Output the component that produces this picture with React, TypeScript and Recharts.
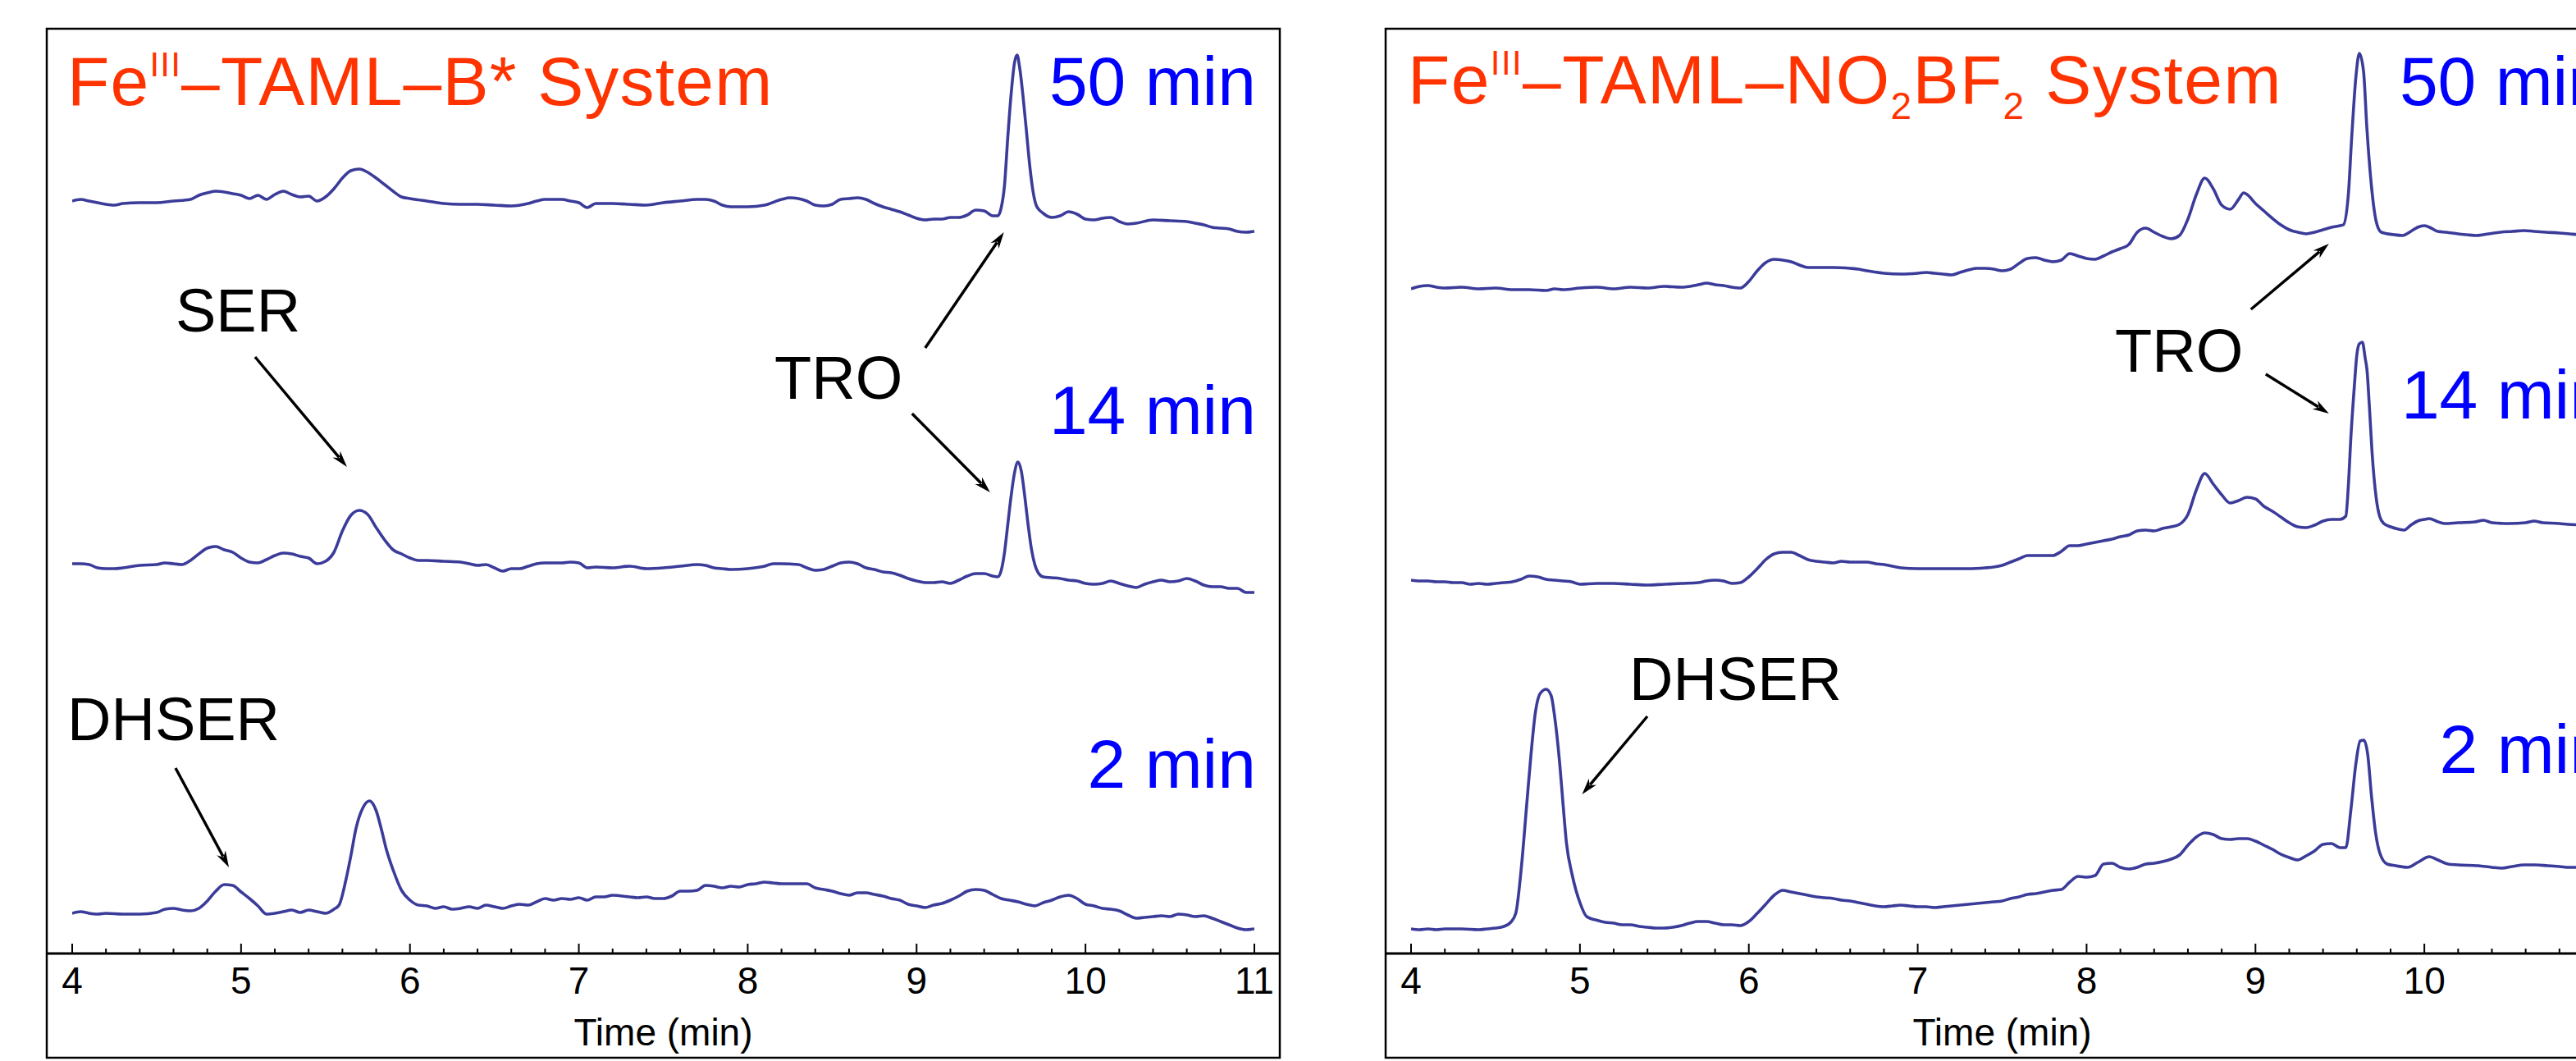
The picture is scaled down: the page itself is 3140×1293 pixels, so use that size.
import React from 'react';
import { LineChart, Line, XAxis, YAxis, ReferenceLine } from 'recharts';

const TRACE_COLOR = '#3b3b9a';
const TITLE_COLOR = '#ff3300';
const TIME_COLOR = '#0000ff';
const FONT = '"Liberation Sans", Arial, Helvetica, sans-serif';

// x ticks every 0.2 min, whole minutes get a label
const xTicks = [
  4, 4.2, 4.4, 4.6, 4.8, 5, 5.2, 5.4, 5.6, 5.8, 6, 6.2, 6.4, 6.6, 6.8, 7, 7.2, 7.4, 7.6, 7.8,
  8, 8.2, 8.4, 8.6, 8.8, 9, 9.2, 9.4, 9.6, 9.8, 10, 10.2, 10.4, 10.6, 10.8, 11,
];

// [retention time (min), detector signal incl. stacking offset]
// Fe(III)-TAML-B* system
const bStar50: [number, number][] = [
  [4.0, 91.7], [4.05, 91.9], [4.1, 91.7], [4.15, 91.5], [4.2, 91.3], [4.25, 91.2], [4.3, 91.4],
  [4.4, 91.5], [4.5, 91.5], [4.6, 91.7], [4.7, 91.9], [4.75, 92.4], [4.8, 92.7], [4.85, 92.9],
  [4.9, 92.8], [4.95, 92.6], [5.0, 92.4], [5.05, 92.0], [5.1, 92.4], [5.15, 91.9], [5.2, 92.5],
  [5.25, 92.9], [5.3, 92.5], [5.35, 92.2], [5.4, 92.3], [5.45, 91.7], [5.5, 92.2], [5.55, 93.2],
  [5.6, 94.5], [5.65, 95.4], [5.7, 95.6], [5.75, 95.2], [5.8, 94.5], [5.85, 93.7], [5.9, 92.9],
  [5.95, 92.2], [6.0, 92.0], [6.1, 91.7], [6.2, 91.4], [6.3, 91.3], [6.4, 91.3], [6.5, 91.2],
  [6.6, 91.1], [6.7, 91.4], [6.75, 91.7], [6.8, 91.9], [6.85, 91.9], [6.9, 91.9], [6.95, 91.7],
  [7.0, 91.5], [7.05, 90.9], [7.1, 91.4], [7.2, 91.4], [7.3, 91.3], [7.4, 91.2], [7.5, 91.5],
  [7.6, 91.7], [7.7, 91.9], [7.75, 91.9], [7.8, 91.7], [7.85, 91.2], [7.9, 91.0], [8.0, 91.0],
  [8.1, 91.2], [8.2, 91.9], [8.25, 92.1], [8.3, 92.0], [8.35, 91.7], [8.4, 91.2], [8.45, 91.1],
  [8.5, 91.3], [8.55, 91.9], [8.6, 92.0], [8.65, 92.1], [8.7, 91.9], [8.75, 91.4], [8.8, 91.0],
  [8.85, 90.7], [8.9, 90.4], [8.95, 90.0], [9.0, 89.6], [9.05, 89.4], [9.1, 89.5], [9.15, 89.5],
  [9.2, 89.7], [9.25, 89.7], [9.3, 90.0], [9.35, 90.6], [9.4, 90.5], [9.45, 89.9], [9.48, 89.9],
  [9.5, 90.8], [9.52, 93.5], [9.54, 99.5], [9.56, 104.8], [9.58, 108.6], [9.595, 109.5],
  [9.61, 108.0], [9.63, 104.5], [9.65, 100.3], [9.67, 96.0], [9.69, 92.8], [9.71, 91.1],
  [9.75, 90.2], [9.8, 89.7], [9.85, 89.9], [9.9, 90.4], [9.95, 90.1], [10.0, 89.5], [10.05, 89.4],
  [10.1, 89.6], [10.15, 89.7], [10.2, 89.2], [10.25, 88.9], [10.3, 89.0], [10.4, 89.4],
  [10.5, 89.3], [10.6, 89.2], [10.65, 89.0], [10.7, 88.8], [10.75, 88.5], [10.8, 88.4],
  [10.85, 88.3], [10.9, 88.0], [10.95, 87.9], [11.0, 88.0],
];

const bStar14: [number, number][] = [
  [4.0, 47.5], [4.05, 47.5], [4.1, 47.4], [4.15, 47.0], [4.2, 46.9], [4.25, 46.9], [4.3, 47.0],
  [4.4, 47.3], [4.5, 47.4], [4.55, 47.6], [4.6, 47.5], [4.65, 47.4], [4.7, 47.9], [4.75, 48.7],
  [4.8, 49.4], [4.85, 49.6], [4.9, 49.2], [4.95, 48.9], [5.0, 48.2], [5.05, 47.7], [5.1, 47.6],
  [5.15, 48.0], [5.2, 48.5], [5.25, 48.8], [5.3, 48.7], [5.35, 48.4], [5.4, 48.2], [5.45, 47.5],
  [5.5, 47.8], [5.55, 48.9], [5.6, 51.5], [5.65, 53.4], [5.7, 54.0], [5.75, 53.5], [5.8, 51.9],
  [5.85, 50.4], [5.9, 49.2], [5.95, 48.7], [6.0, 48.2], [6.05, 47.9], [6.1, 47.9], [6.2, 47.8],
  [6.3, 47.7], [6.35, 47.5], [6.4, 47.3], [6.45, 47.4], [6.5, 47.0], [6.55, 46.6], [6.6, 46.9],
  [6.65, 46.9], [6.7, 47.2], [6.75, 47.5], [6.8, 47.6], [6.9, 47.6], [6.95, 47.7], [7.0, 47.6],
  [7.05, 47.0], [7.1, 47.1], [7.2, 47.0], [7.3, 47.2], [7.4, 46.9], [7.5, 47.0], [7.6, 47.2],
  [7.7, 47.4], [7.75, 47.3], [7.8, 47.0], [7.85, 46.9], [7.9, 46.8], [8.0, 46.9], [8.1, 47.2],
  [8.15, 47.5], [8.2, 47.5], [8.3, 47.4], [8.35, 47.0], [8.4, 46.7], [8.45, 46.8], [8.5, 47.2],
  [8.55, 47.6], [8.6, 47.7], [8.65, 47.5], [8.7, 47.0], [8.75, 46.8], [8.8, 46.5], [8.85, 46.4],
  [8.9, 46.1], [8.95, 45.7], [9.0, 45.4], [9.05, 45.2], [9.1, 45.2], [9.15, 45.3], [9.2, 45.1],
  [9.25, 45.5], [9.3, 46.0], [9.35, 46.3], [9.4, 46.3], [9.45, 46.0], [9.48, 45.9], [9.5, 46.6],
  [9.52, 48.8], [9.54, 52.3], [9.56, 55.8], [9.58, 58.6], [9.6, 59.9], [9.62, 58.8], [9.64, 55.8],
  [9.66, 52.3], [9.68, 49.3], [9.7, 47.4], [9.72, 46.4], [9.75, 45.9], [9.8, 45.8], [9.85, 45.7],
  [9.9, 45.5], [9.95, 45.4], [10.0, 45.1], [10.05, 45.0], [10.1, 45.1], [10.15, 45.4], [10.2, 45.1],
  [10.25, 44.8], [10.3, 44.6], [10.35, 45.0], [10.4, 45.3], [10.45, 45.5], [10.5, 45.3],
  [10.55, 45.4], [10.6, 45.7], [10.65, 45.4], [10.7, 44.9], [10.75, 44.7], [10.8, 44.7],
  [10.85, 44.5], [10.9, 44.5], [10.95, 44.0], [11.0, 44.0],
];

const bStar2: [number, number][] = [
  [4.0, 4.9], [4.05, 5.1], [4.1, 4.9], [4.15, 4.8], [4.2, 4.9], [4.3, 4.8], [4.4, 4.8], [4.5, 5.0],
  [4.55, 5.4], [4.6, 5.5], [4.65, 5.3], [4.7, 5.2], [4.75, 5.5], [4.8, 6.4], [4.85, 7.6], [4.9, 8.4],
  [4.95, 8.3], [5.0, 7.5], [5.05, 6.7], [5.1, 5.8], [5.15, 4.8], [5.2, 4.9], [5.25, 5.1], [5.3, 5.3],
  [5.35, 5.0], [5.4, 5.3], [5.45, 5.1], [5.5, 4.9], [5.55, 5.4], [5.58, 5.9], [5.62, 8.9],
  [5.65, 11.9], [5.68, 15.2], [5.72, 17.7], [5.76, 18.6], [5.8, 17.4], [5.83, 15.2], [5.86, 12.7],
  [5.9, 10.2], [5.95, 7.7], [6.0, 6.5], [6.05, 5.9], [6.1, 5.8], [6.15, 5.5], [6.2, 5.7], [6.25, 5.4],
  [6.3, 5.5], [6.35, 5.7], [6.4, 5.5], [6.45, 5.9], [6.5, 5.7], [6.55, 5.5], [6.6, 5.8], [6.65, 6.0],
  [6.7, 5.9], [6.75, 6.3], [6.8, 6.7], [6.85, 6.5], [6.9, 6.7], [6.95, 6.6], [7.0, 6.8], [7.05, 6.5],
  [7.1, 6.9], [7.15, 6.9], [7.2, 7.1], [7.3, 6.9], [7.35, 6.8], [7.4, 6.9], [7.45, 6.7], [7.5, 6.7],
  [7.55, 7.0], [7.6, 7.6], [7.65, 7.6], [7.7, 7.7], [7.75, 8.3], [7.8, 8.2], [7.85, 8.0], [7.9, 8.2],
  [7.95, 8.1], [8.0, 8.4], [8.05, 8.5], [8.1, 8.7], [8.15, 8.6], [8.2, 8.5], [8.25, 8.5], [8.3, 8.5],
  [8.35, 8.5], [8.4, 8.0], [8.45, 7.8], [8.5, 7.6], [8.55, 7.3], [8.6, 7.1], [8.65, 7.4], [8.7, 7.4],
  [8.75, 7.2], [8.8, 7.0], [8.85, 6.7], [8.9, 6.5], [8.95, 6.0], [9.0, 5.8], [9.05, 5.6], [9.1, 5.9],
  [9.15, 6.1], [9.2, 6.5], [9.25, 7.0], [9.3, 7.6], [9.35, 7.8], [9.4, 7.7], [9.45, 7.2], [9.5, 6.7],
  [9.55, 6.5], [9.6, 6.3], [9.65, 6.0], [9.7, 5.8], [9.75, 6.2], [9.8, 6.5], [9.85, 6.9], [9.9, 7.1],
  [9.95, 6.7], [10.0, 6.0], [10.05, 5.8], [10.1, 5.5], [10.15, 5.4], [10.2, 5.2], [10.25, 4.7],
  [10.3, 4.3], [10.35, 4.4], [10.4, 4.5], [10.45, 4.6], [10.5, 4.5], [10.55, 4.8], [10.6, 4.7],
  [10.65, 4.5], [10.7, 4.6], [10.75, 4.3], [10.8, 3.9], [10.85, 3.5], [10.9, 3.1], [10.95, 2.9],
  [11.0, 3.0],
];

// Fe(III)-TAML-NO2BF2 system
const nbf50: [number, number][] = [
  [4.0, 81.0], [4.05, 81.3], [4.1, 81.4], [4.15, 81.2], [4.2, 81.1], [4.3, 81.2], [4.4, 81.0],
  [4.5, 81.1], [4.6, 80.9], [4.7, 80.9], [4.8, 80.8], [4.85, 81.0], [4.9, 80.9], [5.0, 81.1],
  [5.1, 81.2], [5.2, 81.0], [5.3, 81.2], [5.4, 81.1], [5.5, 81.3], [5.6, 81.2], [5.7, 81.5],
  [5.75, 81.7], [5.8, 81.5], [5.85, 81.4], [5.9, 81.2], [5.95, 81.1], [6.0, 81.9], [6.05, 83.2],
  [6.1, 84.2], [6.15, 84.6], [6.2, 84.5], [6.25, 84.3], [6.3, 83.9], [6.35, 83.6], [6.4, 83.6],
  [6.5, 83.6], [6.6, 83.5], [6.65, 83.4], [6.7, 83.2], [6.8, 82.9], [6.9, 82.8], [7.0, 82.9],
  [7.05, 83.0], [7.1, 82.9], [7.15, 82.8], [7.2, 82.7], [7.25, 83.0], [7.3, 83.3], [7.35, 83.5],
  [7.4, 83.5], [7.45, 83.4], [7.5, 83.2], [7.55, 83.4], [7.6, 84.1], [7.65, 84.7], [7.7, 84.8],
  [7.75, 84.5], [7.8, 84.3], [7.85, 84.5], [7.9, 85.3], [7.95, 85.0], [8.0, 84.7], [8.05, 84.6],
  [8.1, 85.0], [8.15, 85.5], [8.2, 85.9], [8.25, 86.4], [8.3, 87.9], [8.35, 88.4], [8.4, 87.9],
  [8.45, 87.4], [8.5, 87.1], [8.55, 87.5], [8.6, 89.5], [8.65, 92.5], [8.7, 94.5], [8.75, 93.2],
  [8.8, 91.2], [8.85, 90.7], [8.9, 91.9], [8.93, 92.7], [8.95, 92.5], [9.0, 91.4], [9.05, 90.5],
  [9.1, 89.6], [9.15, 88.8], [9.2, 88.2], [9.25, 87.9], [9.3, 87.7], [9.35, 87.9], [9.4, 88.2],
  [9.45, 88.5], [9.5, 88.7], [9.52, 88.8], [9.55, 92.5], [9.57, 99.5], [9.595, 106.9],
  [9.615, 109.7], [9.64, 107.5], [9.66, 100.5], [9.685, 93.9], [9.715, 89.2], [9.745, 87.9],
  [9.82, 87.6], [9.87, 87.5], [9.92, 88.0], [9.96, 88.5], [10.0, 88.7], [10.04, 88.4], [10.08, 88.0],
  [10.13, 87.9], [10.2, 87.7], [10.25, 87.6], [10.31, 87.5], [10.38, 87.7], [10.45, 87.9],
  [10.52, 88.0], [10.59, 88.1], [10.65, 88.0], [10.72, 87.9], [10.8, 87.8], [10.86, 87.7],
  [10.93, 87.6], [11.0, 87.6],
];

const nbf14: [number, number][] = [
  [4.0, 45.5], [4.05, 45.4], [4.1, 45.4], [4.15, 45.3], [4.2, 45.3], [4.25, 45.2], [4.3, 45.2],
  [4.35, 45.0], [4.4, 45.1], [4.45, 45.0], [4.5, 45.1], [4.55, 45.2], [4.6, 45.3], [4.65, 45.6],
  [4.7, 46.0], [4.75, 45.9], [4.8, 45.6], [4.85, 45.5], [4.9, 45.4], [4.95, 45.3], [5.0, 45.0],
  [5.1, 45.1], [5.2, 45.1], [5.3, 45.0], [5.4, 44.9], [5.5, 45.0], [5.6, 45.1], [5.7, 45.2],
  [5.75, 45.4], [5.8, 45.5], [5.85, 45.4], [5.9, 45.1], [5.95, 45.2], [6.0, 45.9], [6.05, 46.9],
  [6.1, 48.0], [6.15, 48.7], [6.2, 48.9], [6.25, 48.9], [6.3, 48.5], [6.35, 48.0], [6.4, 47.8],
  [6.45, 47.7], [6.5, 47.6], [6.55, 47.8], [6.6, 47.7], [6.65, 47.7], [6.7, 47.7], [6.75, 47.5],
  [6.8, 47.4], [6.85, 47.2], [6.9, 47.0], [7.0, 46.9], [7.1, 46.9], [7.2, 46.9], [7.3, 46.9],
  [7.4, 47.0], [7.45, 47.1], [7.5, 47.3], [7.55, 47.7], [7.6, 48.1], [7.65, 48.5], [7.7, 48.5],
  [7.75, 48.5], [7.8, 48.5], [7.85, 49.0], [7.9, 49.7], [7.95, 49.7], [8.0, 49.9], [8.05, 50.1],
  [8.1, 50.3], [8.15, 50.5], [8.2, 50.8], [8.25, 51.0], [8.3, 51.5], [8.35, 51.6], [8.4, 51.5],
  [8.45, 51.8], [8.5, 52.0], [8.55, 52.3], [8.6, 53.5], [8.65, 56.5], [8.7, 58.5], [8.75, 57.2],
  [8.8, 55.9], [8.85, 54.9], [8.9, 55.2], [8.95, 55.6], [9.0, 55.4], [9.05, 54.5], [9.1, 53.9],
  [9.15, 53.2], [9.2, 52.5], [9.25, 52.0], [9.3, 51.9], [9.35, 52.2], [9.4, 52.7], [9.45, 52.9],
  [9.5, 52.9], [9.535, 53.3], [9.55, 57.0], [9.565, 62.9], [9.585, 69.0], [9.6, 72.9],
  [9.615, 74.3], [9.633, 74.5], [9.65, 72.5], [9.66, 71.2], [9.675, 66.5], [9.69, 61.2],
  [9.715, 55.5], [9.735, 53.3], [9.76, 52.4], [9.8, 52.0], [9.85, 51.7], [9.88, 51.6], [9.92, 52.2],
  [9.96, 52.7], [10.0, 52.9], [10.03, 53.0], [10.07, 52.7], [10.12, 52.4], [10.2, 52.5],
  [10.3, 52.6], [10.35, 52.8], [10.4, 52.5], [10.5, 52.4], [10.6, 52.5], [10.65, 52.7],
  [10.7, 52.5], [10.8, 52.4], [10.85, 52.3], [11.0, 52.2],
];

const nbf2: [number, number][] = [
  [4.0, 3.0], [4.05, 2.9], [4.1, 3.0], [4.15, 2.9], [4.2, 3.0], [4.3, 3.0], [4.4, 2.9], [4.45, 3.0],
  [4.5, 3.1], [4.55, 3.3], [4.59, 3.8], [4.62, 4.9], [4.655, 10.9], [4.685, 18.2], [4.71, 24.2],
  [4.735, 29.2], [4.765, 31.7], [4.8, 32.2], [4.83, 31.4], [4.85, 28.9], [4.88, 23.2], [4.9, 18.2],
  [4.92, 13.5], [4.955, 9.5], [5.0, 6.2], [5.04, 4.5], [5.11, 4.0], [5.15, 3.8], [5.2, 3.7],
  [5.25, 3.5], [5.3, 3.5], [5.35, 3.3], [5.4, 3.2], [5.45, 3.1], [5.5, 3.1], [5.55, 3.2], [5.6, 3.4],
  [5.65, 3.7], [5.7, 3.9], [5.75, 3.9], [5.8, 3.7], [5.85, 3.5], [5.9, 3.5], [5.95, 3.4], [6.0, 3.9],
  [6.05, 4.9], [6.1, 6.0], [6.15, 7.1], [6.2, 7.7], [6.25, 7.5], [6.3, 7.3], [6.35, 7.1], [6.4, 6.9],
  [6.45, 6.8], [6.5, 6.7], [6.55, 6.5], [6.6, 6.4], [6.65, 6.2], [6.7, 6.0], [6.75, 5.8], [6.8, 5.7],
  [6.85, 5.8], [6.9, 5.9], [6.95, 5.8], [7.0, 5.7], [7.05, 5.7], [7.1, 5.6], [7.15, 5.7], [7.2, 5.8],
  [7.25, 5.9], [7.3, 6.0], [7.35, 6.1], [7.4, 6.2], [7.45, 6.3], [7.5, 6.4], [7.55, 6.7], [7.6, 6.9],
  [7.65, 7.2], [7.7, 7.3], [7.75, 7.5], [7.8, 7.7], [7.85, 7.8], [7.9, 8.7], [7.95, 9.4], [8.0, 9.3],
  [8.05, 9.5], [8.1, 10.9], [8.15, 11.0], [8.2, 10.5], [8.25, 10.3], [8.3, 10.5], [8.35, 10.9],
  [8.4, 11.0], [8.45, 11.2], [8.5, 11.5], [8.55, 12.0], [8.6, 13.2], [8.65, 14.2], [8.7, 14.7],
  [8.75, 14.5], [8.8, 14.0], [8.85, 13.9], [8.9, 14.0], [8.95, 14.0], [9.0, 13.7], [9.05, 13.2],
  [9.1, 12.7], [9.15, 12.1], [9.2, 11.7], [9.25, 11.4], [9.3, 11.9], [9.35, 12.5], [9.4, 13.3],
  [9.45, 13.4], [9.5, 12.9], [9.535, 12.9], [9.565, 17.5], [9.595, 23.2], [9.62, 25.9],
  [9.642, 26.0], [9.665, 24.2], [9.687, 19.2], [9.71, 14.9], [9.737, 12.2], [9.78, 10.9],
  [9.83, 10.7], [9.9, 10.5], [9.96, 11.1], [10.03, 11.8], [10.08, 11.4], [10.14, 10.9],
  [10.2, 10.8], [10.32, 10.7], [10.4, 10.5], [10.46, 10.4], [10.52, 10.6], [10.59, 10.8],
  [10.66, 10.8], [10.73, 10.7], [10.8, 10.6], [10.86, 10.5], [10.93, 10.5], [11.0, 10.5],
];

// annotation arrows: [from (t, signal), to (t, signal)]
const bStarArrows: [number, number][][] = [
  [[5.083, 72.7], [5.627, 59.3]], // SER
  [[9.051, 73.8], [9.517, 87.9]], // TRO -> 50 min
  [[8.973, 65.8], [9.435, 56.2]], // TRO -> 14 min
  [[4.612, 22.6], [4.928, 10.5]], // DHSER
];
const nbfArrows: [number, number][][] = [
  [[8.973, 78.5], [9.435, 86.5]], // TRO -> 50 min
  [[9.061, 70.6], [9.435, 65.8]], // TRO -> 14 min
  [[5.399, 28.9], [5.013, 19.4]], // DHSER
];

const toRows = (trace: [number, number][]) => trace.map(([t, v]) => ({ t, v }));

const TimeTick = (props: any) => {
  const { x, y, payload } = props;
  const major = Math.abs(payload.value - Math.round(payload.value)) < 1e-6;
  return (
    <g>
      <line x1={x} x2={x} y1={y} y2={y - (major ? 12 : 6)} stroke="#000" strokeWidth={2} />
      {major && (
        <text x={x} y={y + 49} textAnchor="middle" fontSize={46} fill="#000" fontFamily={FONT}>
          {Math.round(payload.value)}
        </text>
      )}
    </g>
  );
};

const ArrowShape = (props: any) => {
  const { x1, y1, x2, y2 } = props;
  const dx = x2 - x1;
  const dy = y2 - y1;
  const len = Math.hypot(dx, dy) || 1;
  const ux = dx / len;
  const uy = dy / len;
  const head = 20;
  const half = 6;
  const bx = x2 - ux * head;
  const by = y2 - uy * head;
  const px = -uy * half;
  const py = ux * half;
  return (
    <g>
      <line x1={x1} y1={y1} x2={bx + ux * 5} y2={by + uy * 5} stroke="#000" strokeWidth={3.5} />
      <polygon
        points={`${x2},${y2} ${bx + px},${by + py} ${bx + ux * 6},${by + uy * 6} ${bx - px},${by - py}`}
        fill="#000"
      />
    </g>
  );
};

function Panel({ left, traces, arrows }: { left: number; traces: [number, number][][]; arrows: [number, number][][] }) {
  return (
    <div style={{ position: 'absolute', left, top: 34 }}>
      <LineChart width={1505} height={1256} margin={{ top: 0, right: 32, bottom: 0, left: 32 }}>
        <XAxis
          type="number"
          dataKey="t"
          domain={[4, 11]}
          ticks={xTicks}
          interval={0}
          allowDataOverflow
          axisLine={false}
          tickLine={false}
          tickSize={0}
          tickMargin={0}
          height={128}
          tick={(p: any) => <TimeTick {...p} />}
          label={{ value: 'Time (min)', position: 'insideBottom', offset: 16, fontSize: 46, fill: '#000' }}
        />
        <YAxis type="number" hide domain={[0, 112.8]} allowDataOverflow />
        {traces.map((tr, i) => (
          <Line
            key={i}
            data={toRows(tr)}
            dataKey="v"
            type="monotone"
            stroke={TRACE_COLOR}
            strokeWidth={3.6}
            dot={false}
            activeDot={false}
            isAnimationActive={false}
          />
        ))}
        {arrows.map((a, i) => (
          <ReferenceLine
            key={`a${i}`}
            segment={[{ x: a[0][0], y: a[0][1] }, { x: a[1][0], y: a[1][1] }]}
            shape={ArrowShape}
            ifOverflow="visible"
          />
        ))}
      </LineChart>
    </div>
  );
}

export default function App() {
  const big = 84;
  const lab = 74;
  return (
    <div
      style={{
        position: 'absolute',
        left: 0,
        top: 0,
        width: 3140,
        height: 1293,
        overflow: 'hidden',
        background: '#fff',
        fontFamily: FONT,
      }}
    >
      <Panel left={56} traces={[bStar50, bStar14, bStar2]} arrows={bStarArrows} />
      <Panel left={1688} traces={[nbf50, nbf14, nbf2]} arrows={nbfArrows} />
      <svg
        width={3140}
        height={1293}
        style={{ position: 'absolute', left: 0, top: 0, pointerEvents: 'none' }}
        fontFamily={FONT}
      >
        {/* frames + x axis lines */}
        <rect x={57} y={35} width={1503} height={1254} fill="none" stroke="#000" strokeWidth={2.5} />
        <line x1={56} x2={1561} y1={1162} y2={1162} stroke="#000" strokeWidth={3} />
        <rect x={1689} y={35} width={1503} height={1254} fill="none" stroke="#000" strokeWidth={2.5} />
        <line x1={1688} x2={3193} y1={1162} y2={1162} stroke="#000" strokeWidth={3} />

        {/* left panel */}
        <text x={82} y={128} fontSize={big} fill={TITLE_COLOR} letterSpacing={1.2}>
          Fe
          <tspan fontSize={42} dy={-35}>III</tspan>
          <tspan dy={35}>–TAML–B* System</tspan>
        </text>
        <text x={1531} y={128} fontSize={big} fill={TIME_COLOR} textAnchor="end">50 min</text>
        <text x={1531} y={529} fontSize={big} fill={TIME_COLOR} textAnchor="end">14 min</text>
        <text x={1531} y={960} fontSize={big} fill={TIME_COLOR} textAnchor="end">2 min</text>
        <text x={214} y={404} fontSize={lab} fill="#000">SER</text>
        <text x={944} y={486} fontSize={lab} fill="#000">TRO</text>
        <text x={82} y={902} fontSize={lab} fill="#000">DHSER</text>

        {/* right panel */}
        <text x={1716} y={126} fontSize={big} fill={TITLE_COLOR} letterSpacing={1.4}>
          Fe
          <tspan fontSize={42} dy={-35}>III</tspan>
          <tspan dy={35}>–TAML–NO</tspan>
          <tspan fontSize={46} dy={19}>2</tspan>
          <tspan dy={-19}>BF</tspan>
          <tspan fontSize={46} dy={19}>2</tspan>
          <tspan dy={-19}> System</tspan>
        </text>
        <text x={3177} y={128} fontSize={big} fill={TIME_COLOR} textAnchor="end">50 min</text>
        <text x={3179} y={510} fontSize={big} fill={TIME_COLOR} textAnchor="end">14 min</text>
        <text x={3179} y={942} fontSize={big} fill={TIME_COLOR} textAnchor="end">2 min</text>
        <text x={2578} y={453} fontSize={lab} fill="#000">TRO</text>
        <text x={1986} y={853} fontSize={lab} fill="#000">DHSER</text>
      </svg>
    </div>
  );
}
